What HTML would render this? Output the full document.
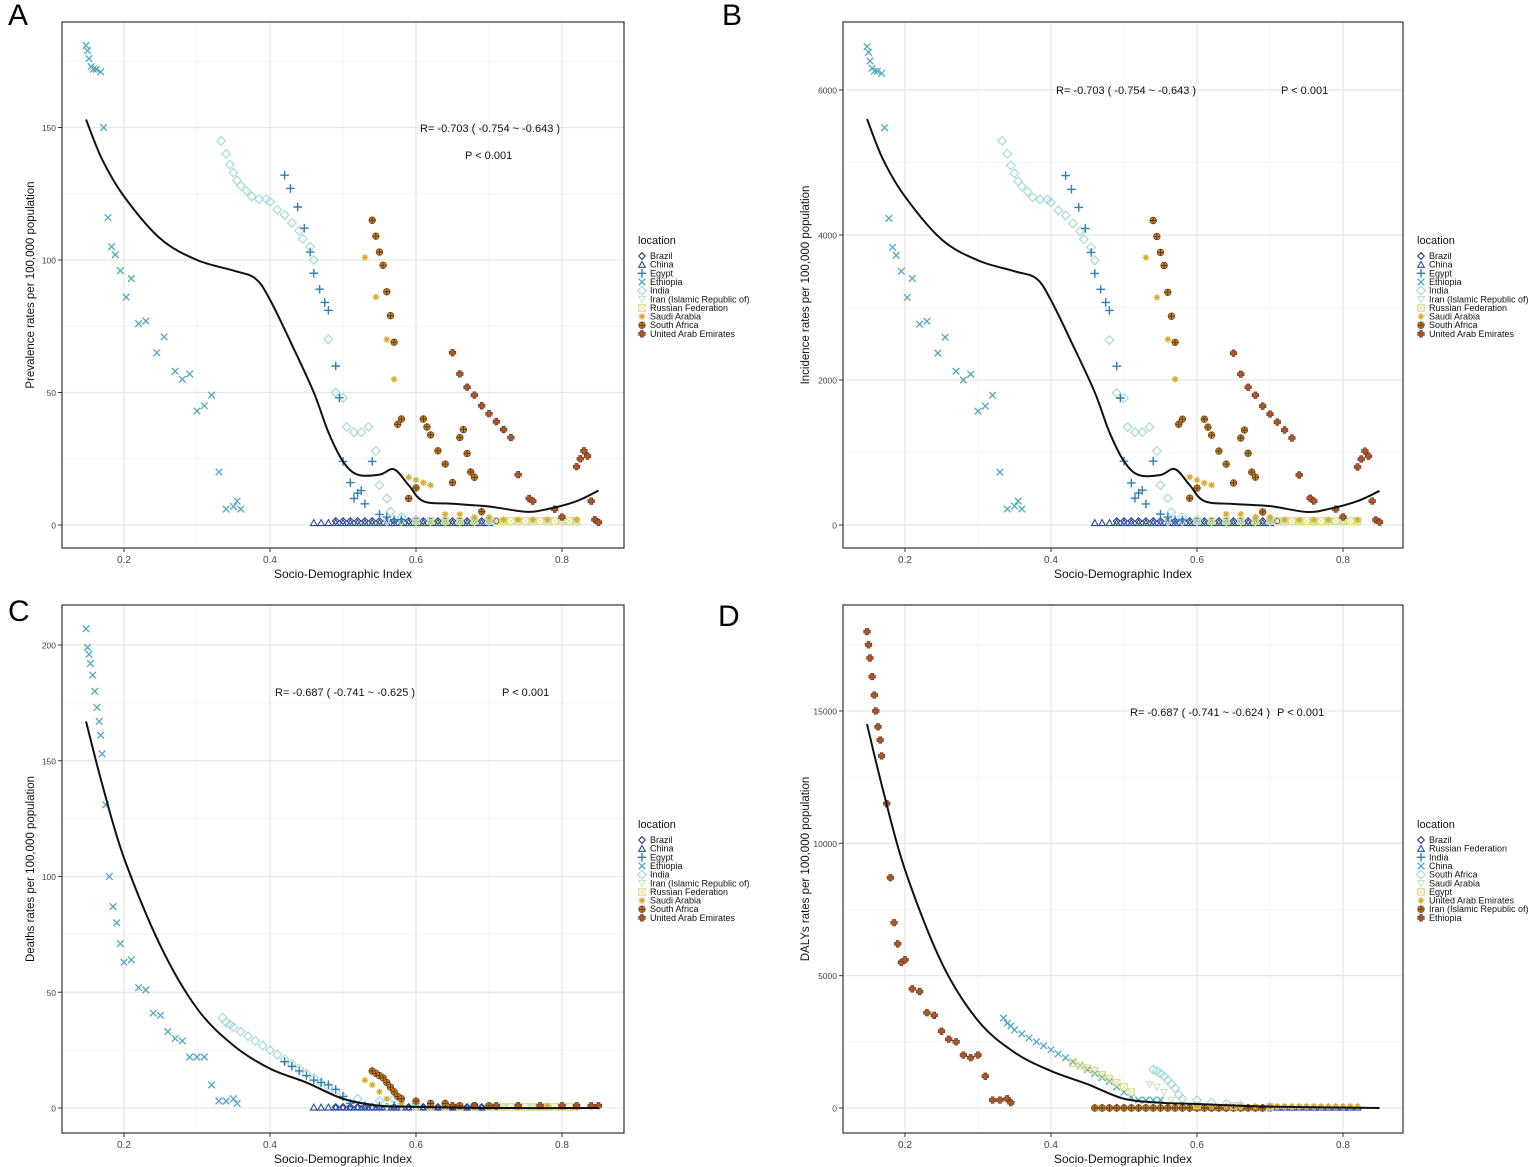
<!DOCTYPE html>
<html><head><meta charset="utf-8"><style>
body{margin:0;background:#fff;width:1535px;height:1167px;overflow:hidden;font-family:"Liberation Sans",Arial,sans-serif}
svg{position:absolute;left:0;top:0}
</style></head><body>
<svg id="chart" width="1535" height="1167" xmlns="http://www.w3.org/2000/svg" font-family="Liberation Sans, Arial, sans-serif"></svg>
<script>
// ---------- data ----------
const xTicks=[0.2,0.4,0.6,0.8];
const yTicksA=[0,50,100,150], yTicksB=[0,2000,4000,6000], yTicksC=[0,50,100,150,200], yTicksD=[0,5000,10000,15000];
const legendA=["Brazil","China","Egypt","Ethiopia","India","Iran (Islamic Republic of)","Russian Federation","Saudi Arabia","South Africa","United Arab Emirates"];
const legendD=["Brazil","Russian Federation","India","China","South Africa","Saudi Arabia","Egypt","United Arab Emirates","Iran (Islamic Republic of)","Ethiopia"];
const lowBrazilX=[0.49,0.5,0.51,0.52,0.53,0.54,0.55,0.56,0.57,0.58,0.59,0.6,0.61,0.62,0.63,0.64,0.65,0.66,0.67,0.68,0.69,0.7,0.71];
const lowChinaX=[0.46,0.47,0.48,0.49,0.5,0.51,0.52,0.53,0.54,0.55,0.56,0.57,0.58,0.59,0.6,0.61,0.62,0.63,0.64,0.65,0.66,0.67,0.68,0.69,0.7];
const lowRussiaX=[0.6,0.62,0.64,0.66,0.68,0.7,0.71,0.72,0.73,0.74,0.75,0.76,0.77,0.78,0.79,0.8,0.81,0.82];
const lowIranX=[0.56,0.58,0.6,0.62,0.64,0.66,0.68,0.7,0.72,0.74,0.76,0.78,0.8,0.82];
// Panel A (prevalence)
const A_eth_x=[0.148,0.15,0.152,0.155,0.158,0.162,0.168,0.172,0.178,0.183,0.188,0.195,0.203,0.21,0.22,0.23,0.245,0.255,0.27,0.28,0.29,0.3,0.31,0.32,0.33,0.34,0.35,0.355,0.36];
const A_eth_y=[181,179,176,173,172,172,171,150,116,105,102,96,86,93,76,77,65,71,58,55,57,43,45,49,20,6,7,9,6];
const A_ind_x=[0.333,0.34,0.345,0.35,0.355,0.36,0.368,0.375,0.385,0.395,0.4,0.41,0.42,0.43,0.44,0.445,0.455,0.46,0.48,0.49,0.5,0.505,0.515,0.525,0.535,0.545,0.55,0.56,0.565,0.58,0.6];
const A_ind_y=[145,140,136,133,130,128,126,124,123,123,122,119,117,114,111,108,105,100,70,50,48,37,35,35,37,28,15,10,5,3,2];
const A_egy_x=[0.42,0.428,0.438,0.447,0.455,0.46,0.468,0.475,0.48,0.49,0.495,0.5,0.51,0.515,0.52,0.525,0.53,0.54,0.55,0.56,0.57,0.58];
const A_egy_y=[132,127,120,112,103,95,89,84,81,60,48,24,16,10,12,13,8,24,4,3,2,2];
const A_sau_x=[0.53,0.545,0.56,0.57,0.59,0.6,0.61,0.62,0.64,0.66,0.68,0.7,0.72,0.74,0.76,0.78,0.8,0.82];
const A_sau_y=[101,86,70,55,18,17,16,15,4,4,3,3,2,2,2,2,3,2];
const A_saf_x=[0.54,0.545,0.55,0.555,0.56,0.565,0.57,0.575,0.58,0.59,0.6,0.61,0.615,0.62,0.63,0.64,0.65,0.66,0.665,0.67,0.675,0.68,0.69];
const A_saf_y=[115,109,103,98,88,79,69,38,40,10,14,40,37,34,28,23,16,33,36,27,20,18,5];
const A_uae_x=[0.65,0.66,0.67,0.68,0.69,0.7,0.71,0.72,0.73,0.74,0.755,0.76,0.79,0.8,0.82,0.825,0.83,0.835,0.84,0.845,0.85];
const A_uae_y=[65,57,52,49,45,42,39,36,33,19,10,9,6,3,22,25,28,26,9,2,1];
const A_line_x=[0.148,0.17,0.2,0.25,0.3,0.35,0.38,0.4,0.43,0.46,0.48,0.5,0.52,0.55,0.57,0.59,0.61,0.65,0.7,0.75,0.78,0.82,0.85];
const A_line_y=[153,138,124,108,100,96,93,85,68,50,35,24,19,19,21,15,9,8,7,5,6,9,13];
// Panel B (incidence)
const B_eth_y=[6600,6520,6400,6300,6260,6260,6230,5480,4230,3830,3720,3500,3140,3400,2770,2810,2370,2590,2120,2000,2080,1570,1640,1790,730,220,260,330,220];
const B_ind_y=[5300,5120,4960,4850,4740,4670,4600,4520,4490,4490,4450,4340,4270,4160,4050,3940,3830,3650,2550,1820,1750,1350,1280,1280,1350,1020,550,370,180,110,70];
const B_egy_y=[4820,4630,4380,4090,3760,3470,3250,3070,2960,2190,1750,880,580,370,440,480,290,880,150,110,70,70];
const B_sau_y=[3690,3140,2560,2010,660,620,580,550,150,150,110,110,70,70,70,70,110,70];
const B_saf_y=[4200,3980,3760,3580,3210,2880,2520,1390,1460,370,510,1460,1350,1240,1020,840,580,1200,1310,990,730,660,180];
const B_uae_y=[2370,2080,1900,1790,1640,1530,1420,1310,1200,690,370,330,220,110,800,910,1020,950,330,70,40];
const B_line_y=[5600,5040,4530,3940,3650,3500,3400,3100,2480,1830,1280,880,690,690,770,550,330,290,260,180,220,330,470];
// Panel C (deaths)
const C_eth_x=[0.148,0.15,0.152,0.154,0.157,0.16,0.163,0.166,0.168,0.17,0.175,0.18,0.185,0.19,0.195,0.2,0.21,0.22,0.23,0.24,0.25,0.26,0.27,0.28,0.29,0.3,0.31,0.32,0.33,0.34,0.35,0.355];
const C_eth_y=[207,199,196,192,187,180,173,167,161,153,131,100,87,80,71,63,64,52,51,41,40,33,30,29,22,22,22,10,3,3,4,2];
const C_ind_x=[0.335,0.34,0.345,0.35,0.36,0.37,0.38,0.39,0.4,0.41,0.42,0.43,0.44,0.45,0.46,0.47,0.48,0.49,0.5,0.52,0.55,0.57,0.6];
const C_ind_y=[39,37,36,35,33,31,29,27,25,23,21,19,17,15,13,11,9,7,5,4,3,4,2];
const C_egy_x=[0.42,0.43,0.44,0.45,0.46,0.47,0.48,0.49,0.5,0.51,0.53,0.55,0.57];
const C_egy_y=[20,18,16,14,12,11,10,8,5,2,1,1,1];
const C_sau_x=[0.53,0.54,0.55,0.56,0.58,0.62,0.66,0.7,0.74,0.78,0.82];
const C_sau_y=[12,10,7,4,2,1,1,1,1,1,1];
const C_saf_x=[0.54,0.545,0.55,0.555,0.56,0.565,0.57,0.575,0.58,0.6,0.62,0.64,0.66,0.68,0.7];
const C_saf_y=[16,15,14,13,11,9,7,5,4,3,2,2,1,1,1];
const C_uae_x=[0.65,0.68,0.71,0.74,0.77,0.8,0.82,0.84,0.85];
const C_uae_y=[1,1,1,1,1,1,1,1,1];
const C_line_x=[0.148,0.17,0.2,0.25,0.3,0.35,0.4,0.45,0.5,0.55,0.6,0.7,0.85];
const C_line_y=[167,140,108,70,43,27,17,11,4,1,0.5,0,0];
// Panel D (DALYs)
const D_eth_x=[0.148,0.15,0.152,0.155,0.158,0.16,0.163,0.166,0.168,0.175,0.18,0.185,0.19,0.195,0.2,0.21,0.22,0.23,0.24,0.25,0.26,0.27,0.28,0.29,0.3,0.31,0.32,0.33,0.34,0.345];
const D_eth_y=[18000,17500,17000,16300,15600,15000,14400,13900,13300,11500,8700,7000,6200,5500,5600,4500,4400,3600,3500,2900,2600,2500,2000,1900,2000,1200,300,300,350,200];
const D_ind_x=[0.335,0.34,0.345,0.35,0.36,0.37,0.38,0.39,0.4,0.41,0.42,0.43,0.44,0.45,0.46,0.47,0.48,0.49,0.5,0.51,0.52,0.53,0.54,0.55];
const D_ind_y=[3400,3200,3100,2950,2800,2650,2500,2350,2200,2050,1900,1750,1600,1450,1300,1150,1000,800,600,400,300,300,300,300];
const D_saf_x=[0.54,0.545,0.55,0.555,0.56,0.565,0.57,0.575,0.58,0.6,0.62,0.64,0.66,0.7];
const D_saf_y=[1450,1400,1300,1200,1050,900,750,500,350,300,200,150,100,50];
const D_egy_x=[0.43,0.44,0.45,0.46,0.47,0.48,0.49,0.5,0.51,0.6,0.65,0.7];
const D_egy_y=[1700,1600,1500,1400,1250,1100,950,800,600,100,80,50];
const D_iran_x=[0.535,0.545,0.555,0.565];
const D_iran_y=[900,800,600,300];
const D_line_x=[0.148,0.17,0.2,0.25,0.3,0.35,0.4,0.45,0.5,0.55,0.6,0.7,0.85];
const D_line_y=[14500,12000,9000,5500,3300,2100,1400,900,350,200,150,50,0];

// ---------- rendering ----------
const NS="http://www.w3.org/2000/svg";
const svg=document.getElementById('chart');
const colors=["#253494","#2c4a9a","#2f7fb5","#4fa8c0","#9fd8dc","#c8e4bc","#dcdc8a","#d8aa30","#c8862a","#a8582c"];
function el(tag,attrs,parent){const e=document.createElementNS(NS,tag);for(const k in attrs)e.setAttribute(k,attrs[k]);(parent||svg).appendChild(e);return e;}
function marker(g,type,cx,cy,c){
  const r=3.3;
  if(type===0)el('path',{d:`M${cx} ${cy-r}L${cx+r} ${cy}L${cx} ${cy+r}L${cx-r} ${cy}Z`,fill:'none',stroke:c,'stroke-width':1.1},g);
  else if(type===1)el('path',{d:`M${cx} ${cy-r}L${cx+r} ${cy+r*0.8}L${cx-r} ${cy+r*0.8}Z`,fill:'none',stroke:c,'stroke-width':1.1},g);
  else if(type===2)el('path',{d:`M${cx-r-1} ${cy}H${cx+r+1}M${cx} ${cy-r-1}V${cy+r+1}`,stroke:c,'stroke-width':1.4},g);
  else if(type===3)el('path',{d:`M${cx-r} ${cy-r}L${cx+r} ${cy+r}M${cx+r} ${cy-r}L${cx-r} ${cy+r}`,stroke:c,'stroke-width':1.3},g);
  else if(type===4)el('path',{d:`M${cx} ${cy-r-1}L${cx+r+1} ${cy}L${cx} ${cy+r+1}L${cx-r-1} ${cy}Z`,fill:'none',stroke:c,'stroke-width':1.1},g);
  else if(type===5)el('path',{d:`M${cx-r} ${cy-r*0.8}L${cx+r} ${cy-r*0.8}L${cx} ${cy+r}Z`,fill:'none',stroke:c,'stroke-width':1.1},g);
  else if(type===6){el('rect',{x:cx-r,y:cy-r,width:2*r,height:2*r,fill:'none',stroke:c,'stroke-width':1.1},g);el('path',{d:`M${cx-r} ${cy-r}L${cx+r} ${cy+r}M${cx+r} ${cy-r}L${cx-r} ${cy+r}`,stroke:c,'stroke-width':0.7},g);}
  else if(type===7)el('path',{d:`M${cx-r} ${cy}H${cx+r}M${cx} ${cy-r}V${cy+r}M${cx-r*0.7} ${cy-r*0.7}L${cx+r*0.7} ${cy+r*0.7}M${cx+r*0.7} ${cy-r*0.7}L${cx-r*0.7} ${cy+r*0.7}`,stroke:c,'stroke-width':1.2},g);
  else if(type===8){el('circle',{cx,cy,r:r,fill:c,stroke:'#7a4a18','stroke-width':0.8},g);el('path',{d:`M${cx-r} ${cy}H${cx+r}M${cx} ${cy-r}V${cy+r}`,stroke:'#5a3010','stroke-width':0.9},g);}
  else {el('path',{d:`M${cx-1.5} ${cy-r}h3v${r-1.5}h${r-1.5}v3h-${r-1.5}v${r-1.5}h-3v-${r-1.5}h-${r-1.5}v-3h${r-1.5}Z`,fill:c,stroke:'#6a3010','stroke-width':0.6},g);}
}
function panel(cfg){
  const g=el('g',{});
  
  
  const {L,R,T,B,y0,ppu}=cfg;
  const sx=x=>124+(L-62)+(x-0.2)*730;
  const sy=v=>y0-v*ppu;
  const minorX=[0.3,0.5,0.7];
  minorX.forEach(x=>el('line',{x1:sx(x),x2:sx(x),y1:T,y2:B,stroke:'#f4f4f4','stroke-width':1},g));
  const st=cfg.ticks[1]-cfg.ticks[0];
  for(let i=0;i<cfg.ticks.length+1;i++){const v=cfg.ticks[0]+st*(i+0.5);if(sy(v)>T)el('line',{x1:L,x2:R,y1:sy(v),y2:sy(v),stroke:'#f4f4f4'},g);}
  xTicks.forEach(x=>el('line',{x1:sx(x),x2:sx(x),y1:T,y2:B,stroke:'#e6e6e6','stroke-width':1.2},g));
  cfg.ticks.forEach(v=>el('line',{x1:L,x2:R,y1:sy(v),y2:sy(v),stroke:'#e6e6e6','stroke-width':1.2},g));
  cfg.series.forEach(s=>{
    const sg=el('g',{},g);
    
    
    s.x.forEach((x,i)=>marker(sg,s.m,sx(x),sy(s.y[i]),colors[s.m]));
  });
  const lp=cfg.lx.map((x,i)=>[sx(x),sy(cfg.ly[i])]);
  let d=`M${lp[0][0]} ${lp[0][1]}`;
  for(let i=1;i<lp.length;i++){const p0=lp[Math.max(0,i-2)],p1=lp[i-1],p2=lp[i],p3=lp[Math.min(lp.length-1,i+1)];
    d+=`C${p1[0]+(p2[0]-p0[0])/6} ${p1[1]+(p2[1]-p0[1])/6},${p2[0]-(p3[0]-p1[0])/6} ${p2[1]-(p3[1]-p1[1])/6},${p2[0]} ${p2[1]}`;}
  const line=el('path',{d,fill:'none',stroke:'#111','stroke-width':2},g);
  
  
  el('rect',{x:L,y:T,width:R-L,height:B-T,fill:'none',stroke:'#333','stroke-width':1.2},g);
  xTicks.forEach(x=>{el('line',{x1:sx(x),x2:sx(x),y1:B,y2:B+4,stroke:'#333'},g);
    const t=el('text',{x:sx(x),y:B+15,'text-anchor':'middle','font-size':10,fill:'#444'},g);t.textContent=String(x);
    });
  cfg.ticks.forEach(v=>{el('line',{x1:L-4,x2:L,y1:sy(v),y2:sy(v),stroke:'#333'},g);
    const t=el('text',{x:L-6,y:sy(v)+3.5,'text-anchor':'end','font-size':8.5,fill:'#444'},g);t.textContent=String(v);
    });
  const xt=el('text',{x:(L+R)/2,y:B+30,'text-anchor':'middle','font-size':12,fill:'#111'},g);xt.textContent='Socio-Demographic Index';
  
  const yt=el('text',{x:0,y:0,'text-anchor':'middle','font-size':11.5,fill:'#111',transform:`translate(${L-cfg.ytOff},${(T+B)/2}) rotate(-90)`},g);yt.textContent=cfg.ytitle;
  
  const lt=el('text',{x:cfg.lt[0]-12,y:cfg.lt[1]-5,'font-size':30,fill:'#000'},g);lt.textContent=cfg.letter;
  
  const ra=el('text',{x:cfg.r[0],y:cfg.r[1],'font-size':11,fill:'#111'},g);ra.textContent=cfg.rtxt;
  
  const pa=el('text',{x:cfg.p[0],y:cfg.p[1],'font-size':11,fill:'#111'},g);pa.textContent='P < 0.001';
  
  const lg=el('g',{},g);
  
  
  const lx=R+14, ly=cfg.legY;
  const tt=el('text',{x:lx,y:ly,'font-size':11,fill:'#111'},lg);tt.textContent='location';
  cfg.legend.forEach((name,i)=>{
    const yy=ly+15+i*8.65;
    marker(lg,i,lx+4,yy-3,colors[i]);
    const t=el('text',{x:lx+12,y:yy,'font-size':9,fill:'#111'},lg);t.textContent=name;
    
  });
}
function lowY(xs,v){return xs.map(()=>v);}
const A_low=(k)=>[
 {label:'Brazil',m:0,x:lowBrazilX,y:lowY(lowBrazilX,1.5*k)},
 {label:'China',m:1,x:lowChinaX,y:lowY(lowChinaX,0.8*k)},
 {label:'Russian Federation',m:6,x:lowRussiaX,y:lowY(lowRussiaX,1.5*k)},
 {label:'Iran',m:5,x:lowIranX,y:lowY(lowIranX,1*k)}];
panel({name:'panel-a-prevalence',letter:'A',lt:[20,30],L:62,R:624,T:22,B:548,y0:525,ppu:2.65,ticks:yTicksA,ytOff:28,ytitle:'Prevalence rates per 100,000 population',
 rtxt:'R= -0.703 ( -0.754 ~ -0.643 )',r:[420,132],p:[465,159],legend:legendA,legY:244,
 series:[...A_low(1),{label:'Ethiopia',m:3,x:A_eth_x,y:A_eth_y},{label:'India',m:4,x:A_ind_x,y:A_ind_y},{label:'Egypt',m:2,x:A_egy_x,y:A_egy_y},
 {label:'Saudi Arabia',m:7,x:A_sau_x,y:A_sau_y},{label:'South Africa',m:8,x:A_saf_x,y:A_saf_y},{label:'UAE',m:9,x:A_uae_x,y:A_uae_y}],
 lx:A_line_x,ly:A_line_y});
panel({name:'panel-b-incidence',letter:'B',lt:[734,30],L:843,R:1403,T:22,B:548,y0:525,ppu:0.0725,ticks:yTicksB,ytOff:34,ytitle:'Incidence rates per 100,000 population',
 rtxt:'R= -0.703 ( -0.754 ~ -0.643 )',r:[1056,94],p:[1281,94],legend:legendA,legY:244,
 series:[...A_low(36),{label:'Ethiopia',m:3,x:A_eth_x,y:B_eth_y},{label:'India',m:4,x:A_ind_x,y:B_ind_y},{label:'Egypt',m:2,x:A_egy_x,y:B_egy_y},
 {label:'Saudi Arabia',m:7,x:A_sau_x,y:B_sau_y},{label:'South Africa',m:8,x:A_saf_x,y:B_saf_y},{label:'UAE',m:9,x:A_uae_x,y:B_uae_y}],
 lx:A_line_x,ly:B_line_y});
panel({name:'panel-c-deaths',letter:'C',lt:[20,626],L:62,R:624,T:605,B:1133,y0:1108,ppu:2.315,ticks:yTicksC,ytOff:28,ytitle:'Deaths rates per 100,000 population',
 rtxt:'R= -0.687 ( -0.741 ~ -0.625 )',r:[275,696],p:[502,696],legend:legendA,legY:828,
 series:[...A_low(0.3),{label:'Ethiopia',m:3,x:C_eth_x,y:C_eth_y},{label:'India',m:4,x:C_ind_x,y:C_ind_y},{label:'Egypt',m:2,x:C_egy_x,y:C_egy_y},
 {label:'Saudi Arabia',m:7,x:C_sau_x,y:C_sau_y},{label:'South Africa',m:8,x:C_saf_x,y:C_saf_y},{label:'UAE',m:9,x:C_uae_x,y:C_uae_y}],
 lx:C_line_x,ly:C_line_y});
panel({name:'panel-d-dalys',letter:'D',lt:[730,631],L:843,R:1403,T:605,B:1133,y0:1108,ppu:0.02647,ticks:yTicksD,ytOff:34,ytitle:'DALYs rates per 100,000 population',
 rtxt:'R= -0.687 ( -0.741 ~ -0.624 )',r:[1130,716],p:[1277,716],legend:legendD,legY:828,
 series:[{label:'Brazil',m:0,x:lowChinaX,y:lowY(lowChinaX,10)},{label:'Russian Federation',m:1,x:lowRussiaX,y:lowY(lowRussiaX,20)},{label:'South Africa low',m:8,x:lowChinaX,y:lowY(lowChinaX,0)},
 {label:'Ethiopia',m:9,x:D_eth_x,y:D_eth_y},{label:'India',m:3,x:D_ind_x,y:D_ind_y},{label:'Egypt',m:6,x:D_egy_x,y:D_egy_y},
 {label:'South Africa',m:4,x:D_saf_x,y:D_saf_y},{label:'Iran',m:5,x:D_iran_x,y:D_iran_y},{label:'UAE',m:7,x:lowRussiaX,y:lowY(lowRussiaX,60)}],
 lx:D_line_x,ly:D_line_y});
</script>
</body></html>
